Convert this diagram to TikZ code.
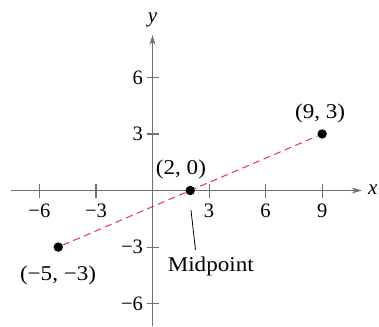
\documentclass[tikz,border=0pt]{standalone}
\usepackage{fontspec}
\setmainfont{Liberation Serif}
\newfontfamily\widefont[FakeStretch=1.1]{Liberation Serif}
\usetikzlibrary{arrows.meta}
\definecolor{axisgray}{HTML}{707070}
\definecolor{magentaline}{HTML}{E8228C}
\tikzset{
  axis/.style={draw=axisgray, line width=1.1pt, -{Stealth[length=10pt,width=6pt]}},
  tick/.style={draw=axisgray, line width=1.1pt},
  dot/.style={circle, fill=black, inner sep=0pt, minimum size=9.4pt},
  lbl/.style={inner sep=0pt},
  ptlbl/.style={inner sep=0pt, font=\fontsize{21}{25}\widefont},
  seg/.style={draw=magentaline, line width=1pt, dash pattern=on 7pt off 4.5pt},
  leader/.style={draw=black, line width=0.8pt}
}
\begin{document}
\begin{tikzpicture}[x=1pt,y=1pt, font=\fontsize{20.5}{25}\selectfont]
\useasboundingbox (0,0) rectangle (379,-326);
\begin{scope}[shift={(152.5pt,-190.5pt)}, x=18.85pt, y=18.85pt]
  % axes
  \coordinate (xl) at (-7.5,0);
  \coordinate (xr) at (11.1,0);
  \coordinate (yb) at (0,-7.19);
  \coordinate (yt) at (0,8.25);
  \draw[axis] (xl) -- (xr);
  \draw[axis] (yb) -- (yt);
  \node[lbl, font=\fontsize{21}{25}\selectfont\itshape] (xlab) at (11.68,0.03) {x};
  \node[lbl, font=\fontsize{21}{25}\selectfont\itshape] (ylab) at (0,9.05) {y};
  % ticks
  \foreach \t in {-6,-3,3,6,9} {
    \draw[tick] (\t,0) ++(0,-7pt) -- ++(0,14pt);
    \node[lbl] (xt\t) at (\t,-1.1) {\ifnum\t<0 −\fi\the\numexpr\ifnum\t<0 -\fi\t\relax};
  }
  \foreach \t in {-6,-3,3,6} {
    \draw[tick] (0,\t) ++(-6pt,0) -- ++(12pt,0);
    \node[lbl, anchor=east] (yt\t) at (-0.5,\t) {\ifnum\t<0 −\fi\the\numexpr\ifnum\t<0 -\fi\t\relax};
  }
  % points and segment
  \node[dot] (p1) at (-5,-3) {};
  \node[dot] (p3) at (9,3) {};
  \draw[seg] (p1) -- (p3);
  \node[dot] (p2) at (2,0) {};
  % labels
  \node[ptlbl] (l1) at (-5.01,-4.48) {(−5, −3)};
  \node[ptlbl] (l3) at (8.89,4.11) {(9, 3)};
  \node[ptlbl] (l2) at (1.51,1.14) {(2, 0)};
  \node[ptlbl] (ml) at (3.09,-4.04) {Midpoint};
  \coordinate (mtop) at (2.04,-1.03);
  \coordinate (mbot) at (2.28,-3.15);
  \draw[leader] (mtop) -- (mbot);
\end{scope}
\end{tikzpicture}
\end{document}
